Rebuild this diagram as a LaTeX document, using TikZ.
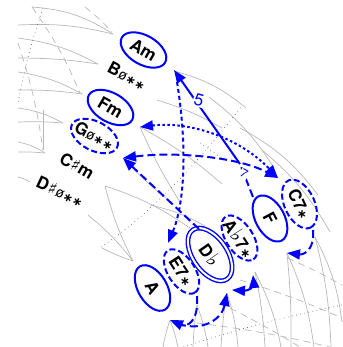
\documentclass[tikz,border=0pt]{standalone}
\usepackage{fontspec}
\setsansfont{TeX Gyre Heros}
\newfontfamily\symfont{DejaVu Sans}
\newfontfamily\zerofont{DejaVu Sans Mono}
\usetikzlibrary{arrows.meta,shapes.geometric}

% glyph helpers for chord names
\newcommand\hdim{{\zerofont\mdseries\fontsize{14}{14}\selectfont ø}}
\newcommand\astk{{\symfont\bfseries\fontsize{12}{12}\selectfont ∗}}
\newcommand\flatg{\kern0.8pt{\symfont\mdseries\fontsize{20}{20}\selectfont ♭}}
\newcommand\sharpg{\kern0.5pt{\symfont\bfseries\fontsize{17}{17}\selectfont ♯}\kern0.5pt}

\tikzset{
  gridline/.style={draw=black!28, line width=0.7pt},
  griddash/.style={gridline, dash pattern=on 7pt off 5pt},
  griddot/.style={draw=black!75, line width=0.6pt, dash pattern=on 0.6pt off 3.6pt},
  chord/.style={font=\sffamily\bfseries\fontsize{17}{17}\selectfont, inner sep=1pt},
  key/.style={chord, ellipse, draw=blue, line width=2pt, minimum width=50pt, minimum height=29pt},
  alt/.style={key, inner xsep=-3pt, dash pattern=on 6pt off 3pt},
  tonic/.style={key, draw=blue, double=white, double distance=2pt, line width=1.4pt,
                minimum width=60pt, minimum height=34pt},
  move/.style={draw=blue, line width=2pt, >={Triangle[length=13pt,width=10pt]}},
  longdash/.style={dash pattern=on 8pt off 4pt},
  shortdash/.style={dash pattern=on 4pt off 3pt},
  dotdash/.style={dash pattern=on 2.5pt off 2.5pt},
  step label/.style={text=blue, font=\sffamily, inner sep=1pt, fill=white}
}

\begin{document}
\begin{tikzpicture}[x=1pt,y=-1pt]
\useasboundingbox (0,0) rectangle (342,347);

% ---------- background lattice: left fans ----------
\draw[gridline] (32,7) to[bend left=14] (113,34);
\draw[gridline] (18,25) to[bend left=8] (113,34);
\draw[gridline] (18,38) to[bend left=10] (98,64);
\draw[gridline] (18,58) to[bend left=4] (98,64);
\draw[gridline] (18,72) to[bend left=10] (82,94);
\draw[gridline] (18,90) to[bend left=4] (82,94);
\draw[gridline] (18,108) to[bend left=10] (63,123);
\draw[gridline] (18,122) to[bend left=3] (63,123);
\draw[gridline] (18,142) to[bend left=10] (45,153);
\draw[gridline] (18,152) to[bend left=3] (45,153);
\draw[gridline] (18,177) to[bend left=8] (30,182);
\draw[gridline] (43,110) -- (43,150);
\draw[griddash] (32,7) to[bend left=6] (80,93);
\draw[griddash] (85,7) to[bend left=4] (112,32);
\draw[griddash] (18,43) to[bend left=5] (43,150);
\draw[griddot] (43,8) to[bend right=4] (18,103);

% ---------- background lattice: middle ----------
\draw[gridline] (174,71) to[bend left=12] (246,108);
\draw[gridline] (209,97) to[bend left=10] (274,168);
\draw[gridline] (240,128) to[bend left=12] (318,195);
\draw[gridline] (262,150) to[bend left=10] (330,232);
\draw[gridline] (140,127) to[bend left=6] (222,184);
\draw[gridline] (140,127) to[bend right=4] (180,202);
\draw[gridline] (157,100) to[bend left=6] (222,128);
\draw[gridline] (123,158) to[bend right=4] (172,203);
\draw[gridline] (105,186) to[bend left=8] (190,228);
\draw[gridline] (105,186) to[bend right=6] (133,261);
\draw[gridline] (102,248) to[bend right=4] (133,261);
\draw[gridline] (88,215) to[bend left=6] (133,261);
\draw[gridline] (150,205) to[bend left=8] (205,226);
\draw[griddot] (101,247) .. controls (150,215) and (200,160) .. (241,107);
\draw[griddot] (200,143) -- (222,158);

% ---------- background lattice: lower fans ----------
\draw[gridline] (170,320) to[bend right=4] (163,347);
\draw[gridline] (170,320) to[bend left=4] (178,347);
\draw[gridline] (197,305) to[bend right=3] (193,347);
\draw[gridline] (197,305) to[bend left=5] (208,347);
\draw[gridline] (227,293) to[bend right=3] (221,347);
\draw[gridline] (227,293) to[bend left=6] (238,347);
\draw[gridline] (255,272) to[bend left=4] (265,347);
\draw[gridline] (255,272) to[bend left=8] (281,347);
\draw[gridline] (287,253) to[bend left=3] (291,347);
\draw[gridline] (287,253) to[bend left=8] (314,347);
\draw[gridline] (315,237) to[bend left=6] (331,347);
\draw[gridline] (315,237) to[bend left=10] (342,322);
\draw[griddash] (240,280) to[bend left=3] (342,318);
\draw[griddash] (287,258) to[bend left=3] (342,285);
\draw[griddash] (197,323) to[bend left=3] (330,347);
\draw[griddash] (230,308) to[bend left=2] (300,347);
\draw[griddot] (183,347) to[bend left=3] (342,305);

% ---------- chord nodes ----------
\node[key, rotate=-30] (am) at (143.5,50) {Am};
\node[chord, rotate=-28] (bh) at (127,76) {B\hdim\astk\astk};
\node[key, rotate=-30] (fm) at (110.5,107.5) {Fm};
\node[alt, rotate=-27] (gh) at (94.5,136) {G\hdim\astk\astk};
\node[chord, rotate=-30] (csm) at (77,166) {C\sharpg m};
\node[chord, rotate=-25] (dsh) at (60,192) {D\sharpg\hdim\astk\astk};

\node[alt, rotate=-65, minimum width=52pt, minimum height=30pt] (c7) at (299.5,204) {C7\astk};
\node[key, rotate=-62] (f) at (270,218.5) {F};
\node[alt, rotate=-57, minimum height=27pt] (ab7) at (239.5,238) {A\flatg 7\astk};
\node[tonic, rotate=-55] (db) at (210,254.5) {D\flatg};
\node[alt, rotate=-57, minimum height=27pt] (e7) at (181.5,271.5) {E7\astk};
\node[key, rotate=-60] (a) at (152.5,288) {A};

% ---------- lattice points reached by moves ----------
\coordinate (pAm) at (174,70);
\coordinate (pFm) at (140,127);
\coordinate (pG) at (123,158);
\coordinate (pC) at (278,178);
\coordinate (pV) at (240,164);
\coordinate (pE) at (168,243);
\coordinate (pCb) at (287,253);
\coordinate (pAb) at (253,275);
\coordinate (pDa) at (227,293);
\coordinate (pDb) at (232,290);
\coordinate (pEb) at (170,320);
% rim points of the chord ellipses where moves leave
\coordinate (fTop) at (253,197);
\coordinate (dbTop) at (199,229);
\coordinate (c7Bot) at (313,230);
\coordinate (e7Bot) at (197,296);

% ---------- moves ----------
\draw[move, ->] (pV) -- (pAm);
\node[step label, rotate=-15, font=\sffamily\fontsize{17}{17}\selectfont] at (199,100) {5};
\draw[move, longdash] (fTop) -- (pV);
\node[step label, rotate=-30, font=\sffamily\fontsize{12}{12}\selectfont] at (244,174) {7};
\draw[move, shortdash, ->] (177,82) .. controls (188,150) and (184,205) .. (pE);
\draw[move, dotdash, <->] (pFm) .. controls (190,121) and (240,138) .. (pC);
\draw[move, longdash, <->] (pG) .. controls (180,151) and (240,158) .. (pC);
\draw[move, longdash, ->] (dbTop) -- (pG);
\draw[move, longdash, ->] (c7Bot) .. controls (315,248) and (305,255) .. (pCb);
\draw[move, longdash, ->] (e7Bot) .. controls (199,323) and (186,327) .. (pEb);
\draw[move, longdash, ->] (178,324) .. controls (205,332) and (222,318) .. (pDa);
\draw[move, longdash, <->] (pDb) .. controls (248,291) and (254,286) .. (pAb);

\end{tikzpicture}
\end{document}
